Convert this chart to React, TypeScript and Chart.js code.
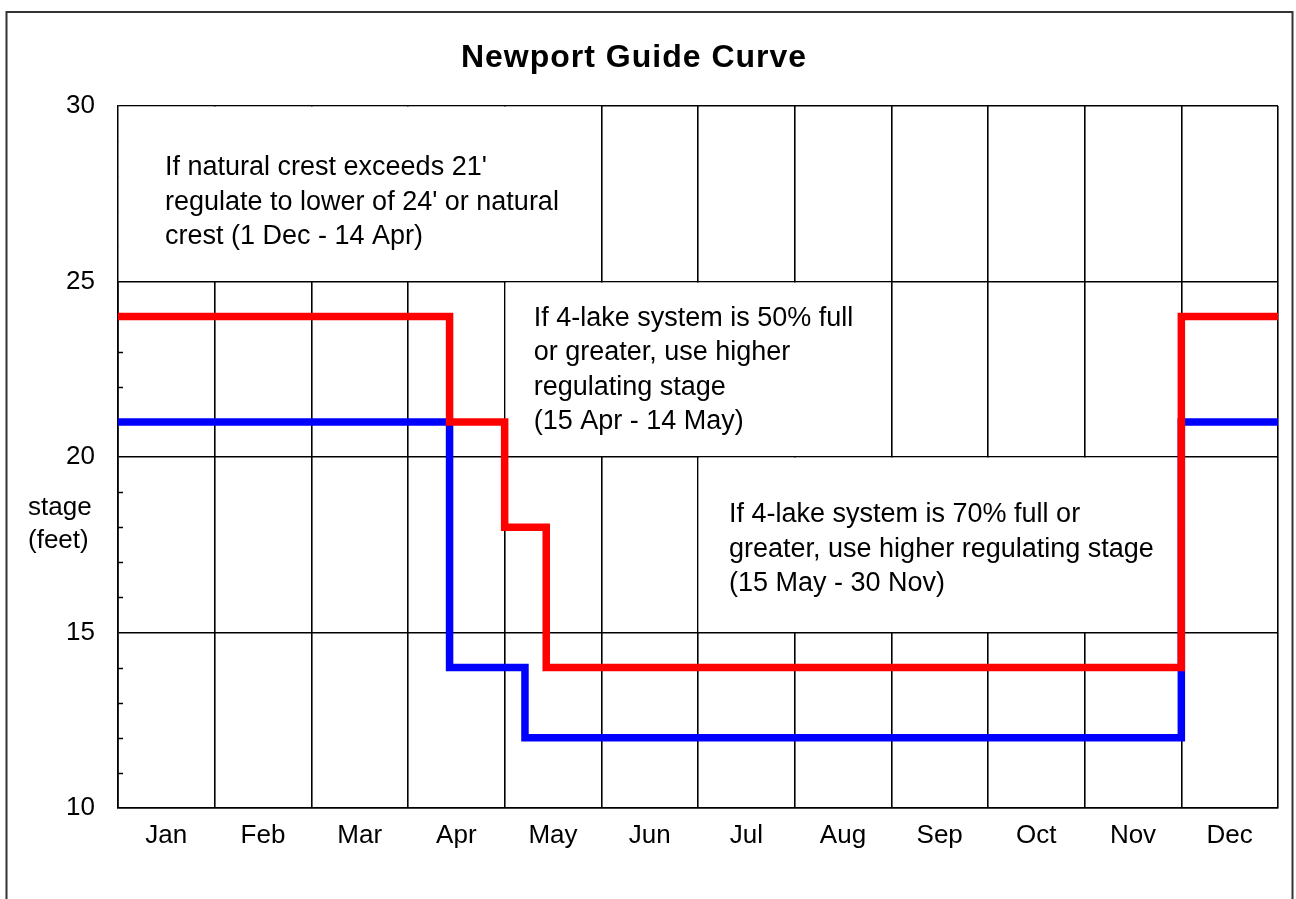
import React, { useEffect, useRef } from 'react';
import { Chart, registerables } from 'chart.js';

Chart.register(...registerables);

// ---------- data ----------
const months = ['Jan', 'Feb', 'Mar', 'Apr', 'May', 'Jun', 'Jul', 'Aug', 'Sep', 'Oct', 'Nov', 'Dec'];
// x = position in months (0 = start of Jan, 12 = end of Dec); stage held from that x until the next point
const redX = [0, 3.43, 4.0, 4.43, 11.0, 12];
const redY = [24, 21, 18, 14, 24, 24];
const blueX = [0, 3.43, 4.21, 11.0, 12];
const blueY = [21, 14, 12, 21, 21];
const yMajorTicks = [10, 15, 20, 25, 30];
const yMinorTicks = [11, 12, 13, 14, 16, 17, 18, 19, 21, 22, 23, 24, 26, 27, 28, 29];
const chartTitle = 'Newport Guide Curve';
const yTitleLines = ['stage', '(feet)'];
const note1Lines = ["If natural crest exceeds 21'", "regulate to lower of 24' or natural", 'crest (1 Dec - 14 Apr)'];
const note2Lines = ['If 4-lake system is 50% full', 'or greater, use higher', 'regulating stage', '(15 Apr - 14 May)'];
const note3Lines = ['If 4-lake system is 70% full or', 'greater, use higher regulating stage', '(15 May - 30 Nov)'];

// ---------- layout of annotation cells (data units) ----------
const notes = [
  { x0: 0, x1: 5, y0: 25, y1: 30, lines: note1Lines, dx: 47, dy: 69 },
  { x0: 4, x1: 8, y0: 20, y1: 25, lines: note2Lines, dx: 29, dy: 44 },
  { x0: 6, x1: 11, y0: 15, y1: 20, lines: note3Lines, dx: 31, dy: 65 },
];

const FONT = '"Liberation Sans", Arial, Helvetica, sans-serif';
const GRID = '#000';
const GRID_W = 1.6;
const align = (p: number) => Math.round(p - GRID_W / 2) + GRID_W / 2;

const decorPlugin = {
  id: 'decor',
  beforeDraw(chart: any) {
    const ctx = chart.ctx;
    ctx.save();
    ctx.fillStyle = '#fff';
    ctx.fillRect(0, 0, chart.width, chart.height);
    // outer frame
    ctx.strokeStyle = '#333';
    ctx.lineWidth = 2;
    ctx.strokeRect(6.5, 12, 1286, 1000);
    // title
    ctx.fillStyle = '#000';
    ctx.font = `bold 32px ${FONT}`;
    try { (ctx as any).letterSpacing = '1px'; } catch (e) {}
    ctx.textAlign = 'center';
    ctx.textBaseline = 'alphabetic';
    ctx.fillText(chartTitle, 634, 67);
    try { (ctx as any).letterSpacing = '0px'; } catch (e) {}
    // y-axis title
    ctx.font = `26px ${FONT}`;
    ctx.textAlign = 'left';
    yTitleLines.forEach((t, i) => ctx.fillText(t, 28, 515 + i * 33));
    ctx.restore();
  },
  beforeDatasetsDraw(chart: any) {
    const ctx = chart.ctx;
    const xs = chart.scales.x;
    const ys = chart.scales.y;
    const area = chart.chartArea;
    ctx.save();
    // minor ticks inside the left axis
    ctx.strokeStyle = GRID;
    ctx.lineWidth = 1.5;
    yMinorTicks.forEach((v) => {
      const py = Math.round(ys.getPixelForValue(v)) + 0.5;
      ctx.beginPath();
      ctx.moveTo(area.left, py);
      ctx.lineTo(area.left + 5, py);
      ctx.stroke();
    });
    // annotation cells: white fill that hides the inner grid lines
    notes.forEach((n) => {
      const left = align(xs.getPixelForValue(n.x0)) + GRID_W / 2;
      const right = align(xs.getPixelForValue(n.x1)) - GRID_W / 2;
      const top = align(ys.getPixelForValue(n.y1)) + GRID_W / 2;
      const bottom = align(ys.getPixelForValue(n.y0)) - GRID_W / 2;
      ctx.fillStyle = '#fff';
      ctx.fillRect(left, top, right - left, bottom - top);
      ctx.fillStyle = '#000';
      ctx.font = `27px ${FONT}`;
      ctx.textAlign = 'left';
      ctx.textBaseline = 'alphabetic';
      const tx = xs.getPixelForValue(n.x0) + n.dx;
      const ty = ys.getPixelForValue(n.y1) + n.dy;
      n.lines.forEach((t, i) => ctx.fillText(t, tx, ty + i * 34.5));
    });
    ctx.restore();
  },
};

const xTickValues: number[] = [];
months.forEach((_, i) => { xTickValues.push(i, i + 0.5); });
xTickValues.push(12);

export default function App() {
  const ref = useRef<HTMLCanvasElement | null>(null);
  useEffect(() => {
    if (!ref.current) return;
    const chart = new Chart(ref.current, {
      type: 'line',
      data: {
        datasets: [
          {
            label: 'Higher regulating stage',
            data: redX.map((x, i) => ({ x, y: redY[i] })),
            borderColor: '#ff0000',
            backgroundColor: '#ff0000',
            borderWidth: 7.5,
            pointRadius: 0,
            stepped: true,
            borderJoinStyle: 'miter',
            borderCapStyle: 'butt',
            fill: false,
          },
          {
            label: 'Regulating stage',
            data: blueX.map((x, i) => ({ x, y: blueY[i] })),
            borderColor: '#0000ff',
            backgroundColor: '#0000ff',
            borderWidth: 7.5,
            pointRadius: 0,
            stepped: true,
            borderJoinStyle: 'miter',
            borderCapStyle: 'butt',
            fill: false,
          },
        ],
      },
      options: {
        responsive: false,
        animation: false,
        devicePixelRatio: 1,
        layout: { padding: { top: 106, right: 18, left: 0, bottom: 0 } },
        plugins: {
          legend: { display: false },
          title: { display: false },
          tooltip: { enabled: false },
        },
        font: { family: FONT },
        scales: {
          x: {
            type: 'linear',
            min: 0,
            max: 12,
            afterBuildTicks: (axis: any) => {
              axis.ticks = xTickValues.map((v) => ({ value: v }));
            },
            afterFit: (axis: any) => { axis.height = 91; },
            ticks: {
              autoSkip: false,
              maxRotation: 0,
              minRotation: 0,
              padding: 12,
              color: '#000',
              font: { family: FONT, size: 26 },
              callback: (v: any) => {
                const n = Number(v);
                return Math.abs(n - Math.floor(n) - 0.5) < 1e-6 ? months[Math.floor(n)] : '';
              },
            },
            grid: {
              drawTicks: false,
              lineWidth: GRID_W,
              color: (c: any) => (c.tick && Number.isInteger(c.tick.value) ? GRID : 'rgba(0,0,0,0)'),
            },
            border: { display: true, color: GRID, width: GRID_W },
          },
          y: {
            type: 'linear',
            min: 10,
            max: 30,
            afterBuildTicks: (axis: any) => {
              axis.ticks = yMajorTicks.map((v) => ({ value: v }));
            },
            afterFit: (axis: any) => { axis.width = 118; },
            ticks: {
              padding: 23,
              color: '#000',
              font: { family: FONT, size: 26 },
              callback: (v: any) => String(v),
            },
            grid: { drawTicks: false, lineWidth: GRID_W, color: GRID },
            border: { display: true, color: GRID, width: GRID_W },
          },
        },
      },
      plugins: [decorPlugin],
    } as any);
    return () => chart.destroy();
  }, []);
  return (
    <div style={{ position: 'fixed', left: 0, top: 0, width: 1296, height: 899 }}>
      <canvas ref={ref} width={1296} height={899} style={{ display: 'block', width: 1296, height: 899 }} />
    </div>
  );
}
